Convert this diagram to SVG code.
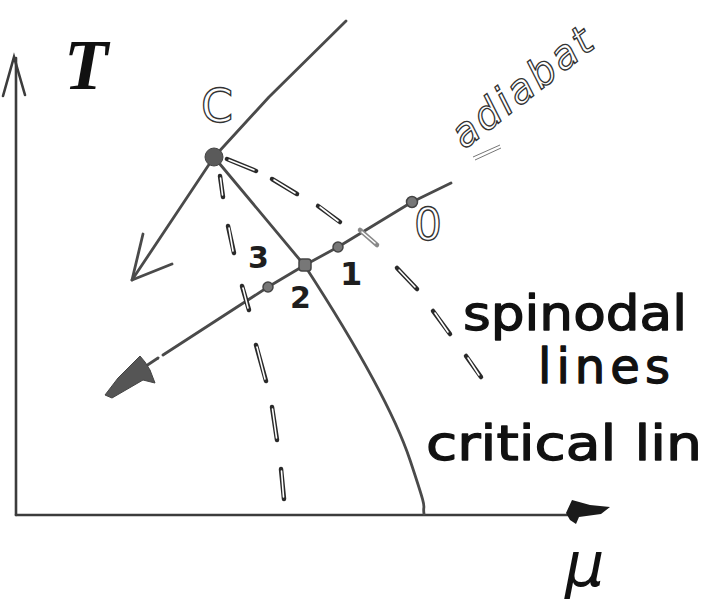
<svg xmlns="http://www.w3.org/2000/svg" width="704" height="606" viewBox="0 0 704 606">
<style>
.ax{stroke:#3c3c3c;stroke-width:2.6;fill:none;stroke-linecap:round}
.ln{stroke:#4a4a4a;stroke-width:2.8;fill:none;stroke-linecap:round;stroke-linejoin:round}
.dsh{stroke:#2a2a2a;stroke-width:4.5;stroke-linecap:round}
.dshi{stroke:#ffffff;stroke-width:1.6;stroke-linecap:round}
.pt{fill:#777;stroke:#444;stroke-width:1.5}
.hand{font-family:"DejaVu Sans","Noto Sans",sans-serif;fill:#111;stroke:#111;stroke-width:1.3;stroke-linejoin:round}
.num{font-family:"DejaVu Sans",sans-serif;font-weight:bold;fill:#1e1e1e}
.hollow{font-family:"DejaVu Sans",sans-serif;fill:#fff;stroke:#333;stroke-width:1.3}
</style>
<rect width="704" height="606" fill="#ffffff"/>

<g id="axes">
  <line class="ax" x1="16" y1="515" x2="16" y2="58"/>
  <polyline class="ax" points="3,96 14,57 25,95"/>
  <line class="ax" x1="16" y1="515" x2="575" y2="515"/>
  <polygon fill="#1a1a1a" points="566,513 572,500 590,505 610,507 601,514 579,517 576,524 570,520"/>
  <text x="64" y="89" font-family="'Liberation Serif',serif" font-style="italic" font-weight="bold" font-size="72" fill="#111">T</text>
  <text x="565" y="586" font-family="'DejaVu Sans',sans-serif" font-style="italic" font-size="62" fill="#111">μ</text>
</g>

<g id="connectors">
  <polyline class="ln" points="346,21 269,97 214,157 132,280"/>
  <polyline class="ln" points="143,234 132,280 172,264"/>
  <path class="ln" stroke-width="3.4" stroke="#3e3e3e" d="M214,157 L305,266 C340,320 390,400 410,460 S422,500 424,514"/>
  <polyline class="ln" points="451,183 412,202 338,247 305,265 268,287 163,355"/>
  <line class="ln" x1="158" y1="358" x2="140" y2="370"/>
  <polygon fill="#555" stroke="#444" stroke-width="1" points="105,395 118,378 140,356 145,362 150,370 155,383 143,380 112,398"/>
  <line stroke="#777" stroke-width="1" x1="473" y1="157" x2="500" y2="145"/>
  <line stroke="#777" stroke-width="1" x1="475" y1="160" x2="501" y2="148"/>
  <g class="dsh">
    <line x1="227" y1="159" x2="256" y2="171"/>
    <line x1="272" y1="179" x2="297" y2="194"/>
    <line x1="318" y1="206" x2="340" y2="222"/>
    <line x1="360" y1="230" x2="377" y2="245" stroke="#888"/>
    <line x1="397" y1="268" x2="417" y2="289"/>
    <line x1="433" y1="311" x2="450" y2="334"/>
    <line x1="466" y1="356" x2="481" y2="377"/>
    <line x1="220" y1="176" x2="223" y2="197"/>
    <line x1="228" y1="226" x2="234" y2="253"/>
    <line x1="242" y1="286" x2="249" y2="310"/>
    <line x1="256" y1="345" x2="266" y2="381"/>
    <line x1="272" y1="407" x2="277" y2="440"/>
    <line x1="281" y1="469" x2="284" y2="499"/>
  </g>
  <g class="dshi">
    <line x1="229" y1="160" x2="254" y2="170"/>
    <line x1="274" y1="180" x2="295" y2="193"/>
    <line x1="320" y1="207" x2="338" y2="221"/>
    <line x1="362" y1="232" x2="375" y2="243"/>
    <line x1="399" y1="270" x2="415" y2="287"/>
    <line x1="435" y1="313" x2="448" y2="332"/>
    <line x1="468" y1="358" x2="479" y2="375"/>
    <line x1="220.5" y1="178" x2="222.5" y2="195"/>
    <line x1="229" y1="228" x2="233" y2="251"/>
    <line x1="243" y1="288" x2="248" y2="308"/>
    <line x1="257" y1="347" x2="265" y2="379"/>
    <line x1="272.5" y1="409" x2="276.5" y2="438"/>
    <line x1="281.5" y1="471" x2="283.5" y2="497"/>
  </g>
</g>

<g id="node-C">
  <circle cx="214" cy="157" r="9" fill="#5a5a5a" stroke="#444" stroke-width="1"/>
  <text class="hollow" x="201" y="122" font-size="46">C</text>
</g>
<g id="node-0">
  <circle class="pt" cx="412" cy="202" r="5.5"/>
  <text class="hollow" x="414" y="240" font-size="44" stroke-width="1.6">0</text>
</g>
<g id="node-1">
  <circle class="pt" cx="338" cy="247" r="5"/>
  <text class="num" x="340" y="285" font-size="32">1</text>
</g>
<g id="node-2">
  <rect class="pt" x="299" y="259" width="12" height="12" rx="3"/>
  <text class="num" x="290" y="308" font-size="30">2</text>
</g>
<g id="node-3">
  <circle class="pt" cx="268" cy="287" r="5"/>
  <text class="num" x="248" y="268" font-size="30">3</text>
</g>

<g id="labels">
  <text class="hollow" x="464" y="150" font-size="40" font-style="italic" stroke-width="1.1" transform="rotate(-38 464 150)" textLength="168" lengthAdjust="spacing">adiabat</text>
  <text class="hand" x="463" y="330" font-size="48" textLength="224" lengthAdjust="spacingAndGlyphs">spinodal</text>
  <text class="hand" x="538" y="383" font-size="48" textLength="132" lengthAdjust="spacing">lines</text>
  <text class="hand" x="426" y="460" font-size="48" textLength="276" lengthAdjust="spacingAndGlyphs">critical lin</text>
</g>
</svg>
